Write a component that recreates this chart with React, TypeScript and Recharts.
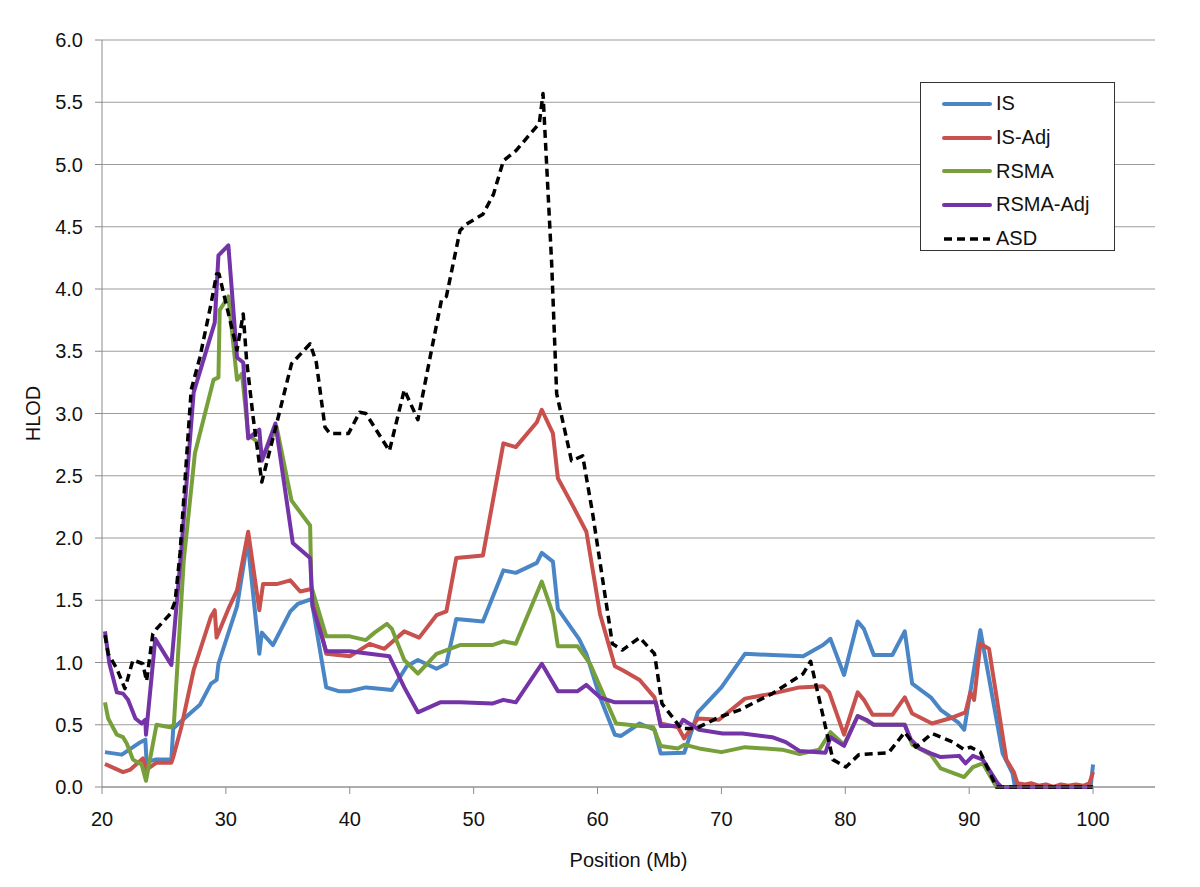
import { LineChart, Line, XAxis, YAxis, CartesianGrid } from "recharts";

// [position (Mb), HLOD]
const isPoints: [number, number][] = [
  [20.24, 0.28], [21.6, 0.26], [23.1, 0.36], [23.5, 0.38], [23.6, 0.2], [24.3, 0.22],
  [25.6, 0.22], [25.75, 0.47], [26.3, 0.52], [27.9, 0.66], [28.8, 0.83], [29.25, 0.86],
  [29.4, 0.99], [30.9, 1.45], [31.75, 1.98], [32.7, 1.07], [32.9, 1.24], [33.8, 1.14],
  [35.2, 1.41], [35.8, 1.47], [36.9, 1.51], [38.1, 0.8], [39.1, 0.77], [40.0, 0.77],
  [41.3, 0.8], [42.4, 0.79], [43.4, 0.78], [44.6, 0.97], [45.5, 1.02], [47.0, 0.95],
  [47.8, 0.99], [48.6, 1.35], [50.75, 1.33], [52.4, 1.74], [53.4, 1.72], [55.1, 1.8],
  [55.5, 1.88], [56.4, 1.81], [56.8, 1.43], [58.0, 1.26], [58.5, 1.19], [59.1, 1.07],
  [60.2, 0.72], [61.4, 0.42], [61.9, 0.41], [63.4, 0.51], [64.6, 0.46], [65.1, 0.27],
  [67.0, 0.275], [68.1, 0.6], [70.0, 0.8], [71.9, 1.07], [74.1, 1.06], [76.6, 1.05],
  [78.2, 1.14], [78.8, 1.19], [79.9, 0.9], [81.0, 1.33], [81.5, 1.27], [82.3, 1.06],
  [83.8, 1.06], [84.8, 1.25], [85.4, 0.83], [86.9, 0.72], [87.7, 0.62], [89.1, 0.52],
  [89.6, 0.46], [90.9, 1.26], [92.7, 0.27], [93.5, 0.11], [93.7, 0.0], [99.8, 0.0],
  [100.0, 0.18],
];

const isAdjPoints: [number, number][] = [
  [20.24, 0.185], [20.8, 0.16], [21.7, 0.12], [22.3, 0.14], [23.3, 0.23], [23.6, 0.14],
  [24.4, 0.195], [25.6, 0.195], [25.75, 0.24], [26.4, 0.48], [27.4, 0.94], [28.8, 1.37],
  [29.1, 1.42], [29.25, 1.2], [30.2, 1.43], [30.9, 1.58], [31.8, 2.05], [32.7, 1.42],
  [33.0, 1.63], [34.1, 1.63], [35.2, 1.66], [36.0, 1.57], [36.9, 1.59], [38.1, 1.07],
  [40.0, 1.05], [41.6, 1.15], [42.8, 1.11], [44.4, 1.25], [45.6, 1.2], [47.0, 1.38],
  [47.8, 1.41], [48.6, 1.84], [50.75, 1.86], [52.4, 2.76], [53.4, 2.73], [55.1, 2.93],
  [55.5, 3.03], [56.4, 2.84], [56.8, 2.48], [58.0, 2.26], [59.1, 2.05], [60.2, 1.39],
  [61.4, 0.97], [62.0, 0.94], [63.4, 0.86], [64.6, 0.72], [65.1, 0.51], [66.5, 0.48],
  [67.0, 0.39], [68.1, 0.55], [69.8, 0.54], [71.9, 0.71], [74.1, 0.75], [76.3, 0.8],
  [78.2, 0.81], [78.7, 0.76], [79.9, 0.42], [81.0, 0.76], [81.5, 0.7], [82.2, 0.58],
  [83.8, 0.58], [84.8, 0.72], [85.4, 0.59], [87.0, 0.51], [88.4, 0.55], [89.7, 0.6],
  [90.1, 0.76], [90.4, 0.7], [90.9, 1.15], [91.6, 1.11], [93.0, 0.22], [93.6, 0.12],
  [93.9, 0.03], [94.5, 0.02], [95.0, 0.03], [95.6, 0.01], [96.2, 0.02], [96.8, 0.0],
  [97.4, 0.02], [98.0, 0.01], [98.6, 0.02], [99.2, 0.01], [99.7, 0.03], [100.0, 0.12],
];

const rsmaPoints: [number, number][] = [
  [20.24, 0.68], [20.5, 0.55], [21.2, 0.42], [21.7, 0.4], [22.0, 0.35], [22.5, 0.22],
  [23.2, 0.18], [23.55, 0.05], [24.4, 0.5], [25.5, 0.48], [25.8, 0.5], [26.6, 1.82],
  [27.5, 2.68], [29.0, 3.27], [29.4, 3.29], [29.5, 3.83], [30.2, 3.94], [30.9, 3.27],
  [31.3, 3.32], [31.8, 2.83], [32.7, 2.76], [33.0, 2.65], [34.1, 2.89], [35.3, 2.3],
  [36.8, 2.1], [36.9, 1.61], [38.1, 1.21], [40.0, 1.21], [41.3, 1.18], [42.0, 1.24],
  [43.0, 1.31], [43.4, 1.27], [44.4, 1.02], [45.5, 0.91], [47.0, 1.07], [48.9, 1.14],
  [51.5, 1.14], [52.4, 1.17], [53.4, 1.15], [55.5, 1.65], [56.4, 1.39], [56.8, 1.13],
  [58.4, 1.13], [59.4, 0.99], [60.4, 0.76], [61.5, 0.51], [64.5, 0.48], [65.1, 0.33],
  [66.5, 0.31], [67.0, 0.34], [68.2, 0.31], [70.0, 0.28], [71.9, 0.32], [74.9, 0.3],
  [76.3, 0.265], [77.9, 0.3], [78.8, 0.44], [79.9, 0.34], [81.0, 0.57], [82.3, 0.5],
  [84.8, 0.5], [85.4, 0.34], [86.9, 0.26], [87.7, 0.15], [89.6, 0.08], [90.3, 0.16],
  [91.1, 0.19], [92.2, 0.0], [100.0, 0.0],
];

const rsmaAdjPoints: [number, number][] = [
  [20.24, 1.25], [20.6, 0.99], [21.2, 0.76], [21.7, 0.75], [22.1, 0.7], [22.7, 0.55],
  [23.2, 0.51], [23.5, 0.54], [23.55, 0.42], [24.3, 1.19], [25.6, 0.98], [26.4, 1.9],
  [27.4, 3.17], [29.1, 3.73], [29.4, 4.27], [30.2, 4.35], [30.9, 3.45], [31.4, 3.41],
  [31.8, 2.8], [32.7, 2.87], [32.9, 2.62], [34.0, 2.92], [35.4, 1.96], [36.8, 1.84],
  [37.0, 1.45], [38.1, 1.09], [40.0, 1.09], [42.4, 1.06], [43.2, 1.05], [44.4, 0.8],
  [45.5, 0.6], [47.3, 0.68], [48.9, 0.68], [51.5, 0.67], [52.4, 0.7], [53.4, 0.68],
  [55.5, 0.99], [56.8, 0.77], [58.4, 0.77], [59.1, 0.82], [60.2, 0.72], [61.4, 0.68],
  [64.7, 0.68], [65.1, 0.49], [66.6, 0.49], [66.9, 0.54], [68.2, 0.46], [70.1, 0.43],
  [71.7, 0.43], [74.1, 0.4], [75.2, 0.36], [76.3, 0.29], [78.4, 0.275], [78.8, 0.4],
  [79.9, 0.33], [81.0, 0.57], [81.7, 0.54], [82.3, 0.5], [84.8, 0.5], [85.3, 0.38],
  [86.0, 0.31], [86.9, 0.27], [87.7, 0.24], [89.2, 0.25], [89.7, 0.19], [90.3, 0.25],
  [91.1, 0.22], [92.3, 0.03], [92.6, 0.0], [100.0, 0.0],
];

const asdPoints: [number, number][] = [
  [20.24, 1.22], [20.5, 1.07], [21.2, 0.95], [21.85, 0.79], [22.5, 1.02], [23.3, 0.99],
  [23.6, 0.85], [24.1, 1.23], [24.4, 1.27], [25.5, 1.39], [25.9, 1.49], [26.3, 1.88],
  [27.2, 3.19], [27.9, 3.45], [28.8, 3.88], [29.25, 4.12], [29.45, 4.12], [30.9, 3.51],
  [31.4, 3.8], [31.67, 3.43], [32.2, 2.97], [32.9, 2.45], [34.1, 2.92], [35.3, 3.4],
  [36.8, 3.56], [37.3, 3.41], [38.0, 2.89], [38.4, 2.84], [39.9, 2.84], [40.8, 3.01],
  [41.3, 3.0], [43.2, 2.7], [44.4, 3.19], [45.5, 2.95], [46.6, 3.51], [47.4, 3.91],
  [47.8, 3.94], [48.9, 4.47], [49.4, 4.52], [50.75, 4.6], [51.6, 4.76], [52.4, 5.03],
  [53.4, 5.11], [55.3, 5.33], [55.6, 5.57], [56.3, 4.2], [56.7, 3.16], [57.9, 2.62],
  [58.8, 2.66], [59.6, 2.2], [60.3, 1.74], [61.2, 1.15], [62.0, 1.1], [63.4, 1.2],
  [64.6, 1.07], [65.2, 0.67], [66.75, 0.47], [67.95, 0.47], [69.8, 0.56], [71.5, 0.62],
  [74.1, 0.75], [76.6, 0.91], [77.2, 1.01], [79.0, 0.22], [80.05, 0.16], [81.1, 0.26],
  [83.5, 0.275], [84.8, 0.44], [85.7, 0.32], [87.0, 0.43], [88.7, 0.36], [89.6, 0.3],
  [90.1, 0.32], [90.9, 0.28], [92.2, 0.0], [100.0, 0.0],
];

const xTicks = [20, 30, 40, 50, 60, 70, 80, 90, 100];
const yTicks = [0, 0.5, 1, 1.5, 2, 2.5, 3, 3.5, 4, 4.5, 5, 5.5, 6];

const series = [
  { name: "IS", points: isPoints, color: "#4A86C6", dash: undefined as string | undefined },
  { name: "IS-Adj", points: isAdjPoints, color: "#C8504D", dash: undefined },
  { name: "RSMA", points: rsmaPoints, color: "#77A03B", dash: undefined },
  { name: "RSMA-Adj", points: rsmaAdjPoints, color: "#7434A8", dash: undefined },
  { name: "ASD", points: asdPoints, color: "#000000", dash: "8 5" },
];

const FONT = '"Liberation Sans", Arial, sans-serif';

function toRows(points: [number, number][]) {
  return points.map(([x, y]) => ({ x, y }));
}

function ChartLegend() {
  return (
    <div
      style={{
        position: "absolute",
        left: 912,
        top: 74,
        width: 195,
        height: 169,
        boxSizing: "border-box",
        border: "1.5px solid #333",
        background: "#fff",
        fontFamily: FONT,
        fontSize: 20,
        color: "#111",
        paddingTop: 4,
      }}
    >
      {series.map((s) => (
        <div key={s.name} style={{ display: "flex", alignItems: "center", height: 33.7 }}>
          <svg width={50} height={8} style={{ marginLeft: 21, marginRight: 4 }}>
            <line
              x1={2}
              y1={4}
              x2={48}
              y2={4}
              stroke={s.color}
              strokeWidth={s.dash ? 3.5 : 4}
              strokeLinecap={s.dash ? "butt" : "round"}
              strokeDasharray={s.dash}
            />
          </svg>
          <span>{s.name}</span>
        </div>
      ))}
    </div>
  );
}

export default function App() {
  return (
    <div style={{ position: "relative", width: 1184, height: 871, background: "#fff" }}>
      <LineChart
        width={1184}
        height={871}
        margin={{ top: 32, right: 37, left: 0, bottom: 0 }}
        style={{ fontFamily: FONT }}
      >
        <CartesianGrid vertical={false} stroke="#9c9c9c" strokeWidth={1.2} />
        <XAxis
          dataKey="x"
          type="number"
          domain={[20, 105]}
          ticks={xTicks}
          allowDuplicatedCategory={false}
          height={92}
          stroke="#8c8c8c"
          tickSize={7}
          tickMargin={18}
          tick={{ fill: "#111", fontSize: 20, fontFamily: FONT }}
          label={{
            value: "Position (Mb)",
            position: "insideBottom",
            offset: 12,
            style: { fill: "#111", fontSize: 20, fontFamily: FONT },
          }}
        />
        <YAxis
          type="number"
          domain={[0, 6]}
          ticks={yTicks}
          width={94}
          stroke="#8c8c8c"
          tickSize={7}
          tickMargin={12}
          tickFormatter={(v: number) => v.toFixed(1)}
          tick={{ fill: "#111", fontSize: 20, fontFamily: FONT }}
          label={{
            value: "HLOD",
            angle: -90,
            position: "insideLeft",
            offset: 25,
            style: { fill: "#111", fontSize: 20, fontFamily: FONT, textAnchor: "middle" },
          }}
        />
        {series.map((s) => (
          <Line
            key={s.name}
            name={s.name}
            data={toRows(s.points)}
            dataKey="y"
            type="linear"
            stroke={s.color}
            strokeWidth={s.dash ? 3.5 : 4}
            strokeDasharray={s.dash}
            strokeLinejoin="round"
            dot={false}
            activeDot={false}
            isAnimationActive={false}
          />
        ))}
      </LineChart>
      <ChartLegend />
    </div>
  );
}
